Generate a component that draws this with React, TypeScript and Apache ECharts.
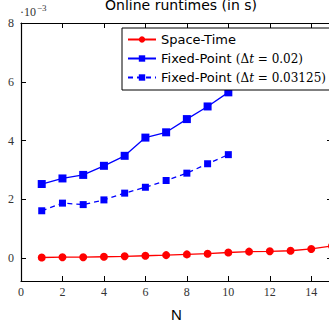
import React, { useEffect, useRef } from "react";
import * as echarts from "echarts";

const N = [1, 2, 3, 4, 5, 6, 7, 8, 9, 10, 11, 12, 13, 14, 15];
const spaceTime = [0.02, 0.03, 0.03, 0.045, 0.06, 0.08, 0.1, 0.125, 0.15, 0.19, 0.22, 0.23, 0.25, 0.31, 0.41];
const NFixed = [1, 2, 3, 4, 5, 6, 7, 8, 9, 10];
const fixed002 = [2.52, 2.71, 2.83, 3.14, 3.48, 4.1, 4.28, 4.73, 5.16, 5.64];
const fixed003125 = [1.61, 1.87, 1.82, 1.98, 2.21, 2.41, 2.64, 2.89, 3.21, 3.52];
const xTicks = [0, 2, 4, 6, 8, 10, 12, 14];
const yTicks = [0, 2, 4, 6, 8];
const seriesNames = ["Space-Time", "Fixed-Point (Δt = 0.02)", "Fixed-Point (Δt = 0.03125)"];

const serif = "Liberation Serif";
const mathFont = "DejaVu Serif";
const sans = "DejaVu Sans";

export default function App() {
  const ref = useRef<HTMLDivElement>(null);
  useEffect(() => {
    if (!ref.current) return;
    const chart = echarts.init(ref.current, null, { renderer: "svg" });
    const pairs = (xs: number[], ys: number[]) => xs.map((x, i) => [x, ys[i]]);
    const legendFmt = (name: string) => {
      if (name === seriesNames[1]) return "Fixed-Point {m|(Δ}{i|t}{m| = 0.02)}";
      if (name === seriesNames[2]) return "Fixed-Point {m|(Δ}{i|t}{m| = 0.03125)}";
      return name;
    };
    const axisCommon = {
      axisLine: { show: true, onZero: false, lineStyle: { color: "#000", width: 1.2 } },
      splitLine: { show: false },
    };
    chart.setOption({
      animation: false,
      backgroundColor: "#fff",
      title: {
        text: "Online runtimes (in s)",
        left: 176,
        textAlign: "center",
        top: -7,
        textStyle: { fontFamily: sans, fontWeight: "normal", fontSize: 14, color: "#000" },
      },
      graphic: [
        {
          type: "text",
          left: 20,
          top: 3,
          style: {
            text: "·10{s|−3}",
            font: `12px ${serif}`,
            fill: "#333",
            rich: { s: { fontSize: 9, fontFamily: serif, verticalAlign: "top", padding: [0, 0, 8, 1] } },
          },
        },
      ],
      legend: {
        orient: "vertical",
        left: 122,
        top: 28,
        padding: [4, 6, 5, 5],
        itemGap: 4,
        itemWidth: 28,
        itemHeight: 8,
        backgroundColor: "#fff",
        borderColor: "#000",
        borderWidth: 1,
        borderRadius: 0,
        data: seriesNames,
        formatter: legendFmt,
        textStyle: {
          fontFamily: sans,
          fontSize: 13,
          lineHeight: 15,
          color: "#000",
          rich: {
            m: { fontFamily: mathFont, fontSize: 12, lineHeight: 15, color: "#000" },
            i: { fontFamily: mathFont, fontSize: 12, lineHeight: 15, fontStyle: "italic", color: "#000" },
          },
        },
      },
      grid: { left: 21, right: -3, top: 23, bottom: 41, containLabel: false, outerBoundsMode: "none" },
      xAxis: [
        {
          ...axisCommon,
          type: "value",
          min: 0,
          max: 15,
          position: "bottom",
          name: "N",
          nameLocation: "middle",
          nameGap: 26,
          nameTextStyle: { fontFamily: "Liberation Sans", fontSize: 15, color: "#000" },
          axisTick: { show: true, inside: true, length: 5, customValues: xTicks, lineStyle: { color: "#000" } },
          axisLabel: { customValues: xTicks, fontFamily: serif, fontSize: 12, color: "#333", margin: 5 },
        },
        {
          ...axisCommon,
          type: "value",
          min: 0,
          max: 15,
          position: "top",
          axisTick: { show: true, inside: true, length: 5, customValues: xTicks, lineStyle: { color: "#000" } },
          axisLabel: { show: false },
        },
      ],
      yAxis: [
        {
          ...axisCommon,
          type: "value",
          min: -0.78,
          max: 8,
          position: "left",
          axisTick: { show: true, inside: true, length: 5, customValues: yTicks, lineStyle: { color: "#000" } },
          axisLabel: { customValues: yTicks, fontFamily: serif, fontSize: 12, color: "#333", margin: 7 },
        },
        {
          ...axisCommon,
          type: "value",
          min: -0.78,
          max: 8,
          position: "right",
          axisTick: { show: true, inside: true, length: 5, customValues: yTicks, lineStyle: { color: "#000" } },
          axisLabel: { show: false },
        },
      ],
      series: [
        {
          name: seriesNames[0],
          type: "line",
          data: pairs(N, spaceTime),
          symbol: "circle",
          symbolSize: 8,
          itemStyle: { color: "#ff0000" },
          lineStyle: { color: "#ff0000", width: 1.3 },
        },
        {
          name: seriesNames[1],
          type: "line",
          data: pairs(NFixed, fixed002),
          symbol: "rect",
          symbolSize: 8,
          itemStyle: { color: "#0000ff" },
          lineStyle: { color: "#0000ff", width: 1.3 },
        },
        {
          name: seriesNames[2],
          type: "line",
          data: pairs(NFixed, fixed003125),
          symbol: "rect",
          symbolSize: 7,
          itemStyle: { color: "#0000ff" },
          lineStyle: { color: "#0000ff", width: 1.3, type: [5, 4] },
        },
      ],
    });
    return () => chart.dispose();
  }, []);
  return <div ref={ref} style={{ width: 329, height: 322, position: "absolute", left: 0, top: 0 }} />;
}
